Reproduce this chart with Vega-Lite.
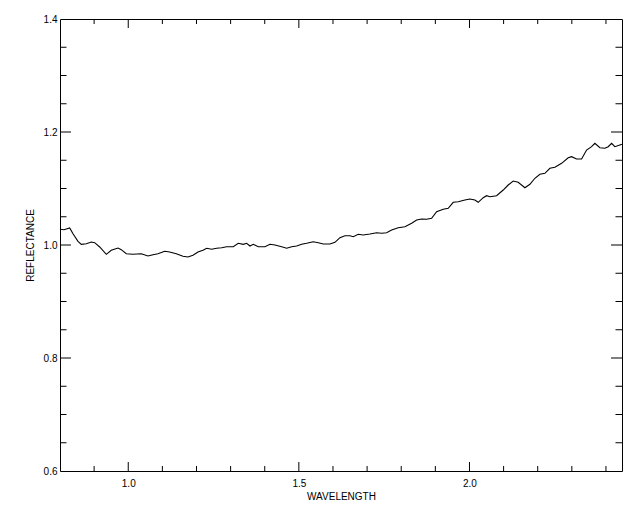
{
  "$schema": "https://vega.github.io/schema/vega-lite/v6.json",
  "width": 562,
  "height": 452,
  "autosize": {"type": "none"},
  "padding": {"left": 60, "top": 19, "right": 18, "bottom": 41},
  "background": "white",
  "config": {
    "view": {"stroke": "black"},
    "axis": {"grid": false, "domain": false, "tickColor": "black", "tickWidth": 1,
      "labelFont": "Liberation Sans", "labelFontSize": 10, "labelColor": "black",
      "titleFont": "Liberation Sans", "titleFontSize": 10, "titleFontWeight": "normal", "titleColor": "black"}
  },
  "datasets": {
    "xminor": [{"v": 0.9}, {"v": 1.1}, {"v": 1.2}, {"v": 1.3}, {"v": 1.4}, {"v": 1.6}, {"v": 1.7}, {"v": 1.8}, {"v": 1.9}, {"v": 2.1}, {"v": 2.2}, {"v": 2.3}, {"v": 2.4}],
    "xmajor": [{"v": 1.0}, {"v": 1.5}, {"v": 2.0}],
    "yminor": [{"v": 0.65}, {"v": 0.7}, {"v": 0.75}, {"v": 0.85}, {"v": 0.9}, {"v": 0.95}, {"v": 1.05}, {"v": 1.1}, {"v": 1.15}, {"v": 1.25}, {"v": 1.3}, {"v": 1.35}],
    "ymajor": [{"v": 0.8}, {"v": 1.0}, {"v": 1.2}],
    "spec": [
      {"w": 0.8000, "r": 1.0278}, {"w": 0.8117, "r": 1.0269}, {"w": 0.8284, "r": 1.0301},
      {"w": 0.8381, "r": 1.0200}, {"w": 0.8527, "r": 1.0065}, {"w": 0.8624, "r": 1.0012},
      {"w": 0.8771, "r": 1.0023}, {"w": 0.8917, "r": 1.0053}, {"w": 0.9017, "r": 1.0041},
      {"w": 0.9163, "r": 0.9965}, {"w": 0.9357, "r": 0.9835}, {"w": 0.9503, "r": 0.9906},
      {"w": 0.9699, "r": 0.9947}, {"w": 0.9796, "r": 0.9917}, {"w": 0.9943, "r": 0.9846},
      {"w": 1.0139, "r": 0.9835}, {"w": 1.0382, "r": 0.9846}, {"w": 1.0578, "r": 0.9805},
      {"w": 1.0725, "r": 0.9828}, {"w": 1.0871, "r": 0.9846}, {"w": 1.1068, "r": 0.9888},
      {"w": 1.1214, "r": 0.9876}, {"w": 1.1408, "r": 0.9846}, {"w": 1.1604, "r": 0.9800},
      {"w": 1.1750, "r": 0.9788}, {"w": 1.1897, "r": 0.9818}, {"w": 1.2043, "r": 0.9876},
      {"w": 1.2190, "r": 0.9906}, {"w": 1.2298, "r": 0.9942}, {"w": 1.2445, "r": 0.9924},
      {"w": 1.2591, "r": 0.9942}, {"w": 1.2738, "r": 0.9952}, {"w": 1.2884, "r": 0.9970},
      {"w": 1.3078, "r": 0.9970}, {"w": 1.3224, "r": 1.0030}, {"w": 1.3371, "r": 1.0012},
      {"w": 1.3470, "r": 1.0030}, {"w": 1.3567, "r": 0.9982}, {"w": 1.3664, "r": 1.0012},
      {"w": 1.3810, "r": 0.9970}, {"w": 1.4006, "r": 0.9970}, {"w": 1.4153, "r": 1.0012},
      {"w": 1.4299, "r": 1.0000}, {"w": 1.4496, "r": 0.9970}, {"w": 1.4642, "r": 0.9942},
      {"w": 1.4789, "r": 0.9970}, {"w": 1.4935, "r": 0.9982}, {"w": 1.5082, "r": 1.0012},
      {"w": 1.5228, "r": 1.0030}, {"w": 1.5422, "r": 1.0058}, {"w": 1.5568, "r": 1.0041},
      {"w": 1.5715, "r": 1.0018}, {"w": 1.5911, "r": 1.0018}, {"w": 1.6057, "r": 1.0048},
      {"w": 1.6204, "r": 1.0129}, {"w": 1.6350, "r": 1.0165}, {"w": 1.6497, "r": 1.0165},
      {"w": 1.6594, "r": 1.0147}, {"w": 1.6740, "r": 1.0189}, {"w": 1.6887, "r": 1.0177},
      {"w": 1.7083, "r": 1.0195}, {"w": 1.7279, "r": 1.0218}, {"w": 1.7426, "r": 1.0207},
      {"w": 1.7572, "r": 1.0218}, {"w": 1.7719, "r": 1.0265}, {"w": 1.7912, "r": 1.0306},
      {"w": 1.8108, "r": 1.0324}, {"w": 1.8305, "r": 1.0384}, {"w": 1.8451, "r": 1.0442},
      {"w": 1.8598, "r": 1.0460}, {"w": 1.8744, "r": 1.0455}, {"w": 1.8891, "r": 1.0473},
      {"w": 1.9037, "r": 1.0589}, {"w": 1.9231, "r": 1.0632}, {"w": 1.9377, "r": 1.0650},
      {"w": 1.9524, "r": 1.0756}, {"w": 1.9670, "r": 1.0766}, {"w": 1.9866, "r": 1.0796},
      {"w": 2.0013, "r": 1.0814}, {"w": 2.0159, "r": 1.0796}, {"w": 2.0256, "r": 1.0756},
      {"w": 2.0403, "r": 1.0837}, {"w": 2.0502, "r": 1.0873}, {"w": 2.0599, "r": 1.0855},
      {"w": 2.0795, "r": 1.0873}, {"w": 2.0989, "r": 1.0973}, {"w": 2.1135, "r": 1.1062},
      {"w": 2.1282, "r": 1.1133}, {"w": 2.1428, "r": 1.1110}, {"w": 2.1624, "r": 1.1014},
      {"w": 2.1771, "r": 1.1074}, {"w": 2.1917, "r": 1.1181}, {"w": 2.2064, "r": 1.1251},
      {"w": 2.2210, "r": 1.1269}, {"w": 2.2357, "r": 1.1358}, {"w": 2.2503, "r": 1.1375},
      {"w": 2.2700, "r": 1.1446}, {"w": 2.2893, "r": 1.1545}, {"w": 2.2993, "r": 1.1563},
      {"w": 2.3139, "r": 1.1522}, {"w": 2.3286, "r": 1.1522}, {"w": 2.3432, "r": 1.1681},
      {"w": 2.3578, "r": 1.1740}, {"w": 2.3675, "r": 1.1800}, {"w": 2.3822, "r": 1.1722},
      {"w": 2.3968, "r": 1.1712}, {"w": 2.4065, "r": 1.1740}, {"w": 2.4165, "r": 1.1800},
      {"w": 2.4261, "r": 1.1740}, {"w": 2.4408, "r": 1.1770}, {"w": 2.4467, "r": 1.1782}
    ]
  },
  "resolve": {"axis": {"x": "independent", "y": "independent"}},
  "layer": [
    {
      "data": {"name": "spec"},
      "mark": {"type": "line", "color": "black", "strokeWidth": 1.1},
      "encoding": {
        "x": {"field": "w", "type": "quantitative",
          "scale": {"domain": [0.8, 2.447], "nice": false, "zero": false},
          "axis": {"orient": "bottom", "values": [1.0, 1.5, 2.0], "format": ".1f", "ticks": false,
            "labelPadding": 7, "title": "WAVELENGTH", "titleBaseline": "top", "titleY": 20}},
        "y": {"field": "r", "type": "quantitative",
          "scale": {"domain": [0.6, 1.4], "nice": false, "zero": false},
          "axis": {"orient": "left", "values": [0.6, 0.8, 1.0, 1.2, 1.4], "format": ".1f", "ticks": false,
            "labelPadding": 3,
            "title": "REFLECTANCE", "titleAngle": -90, "titleAlign": "center", "titleBaseline": "middle",
            "titleX": -30, "titleY": 226}}
      }
    },
    {
      "data": {"name": "xminor"},
      "mark": {"type": "rule", "color": "black", "strokeWidth": 1},
      "encoding": {
        "x": {"field": "v", "type": "quantitative", "axis": null},
        "y": {"datum": 0.6, "type": "quantitative", "axis": null},
        "y2": {"datum": 0.60885}
      }
    },
    {
      "data": {"name": "xmajor"},
      "mark": {"type": "rule", "color": "black", "strokeWidth": 1},
      "encoding": {
        "x": {"field": "v", "type": "quantitative", "axis": null},
        "y": {"datum": 0.6, "type": "quantitative", "axis": null},
        "y2": {"datum": 0.6159}
      }
    },
    {
      "data": {"name": "xminor"},
      "mark": {"type": "rule", "color": "black", "strokeWidth": 1},
      "encoding": {
        "x": {"field": "v", "type": "quantitative", "axis": null},
        "y": {"datum": 1.4, "type": "quantitative", "axis": null},
        "y2": {"datum": 1.39115}
      }
    },
    {
      "data": {"name": "xmajor"},
      "mark": {"type": "rule", "color": "black", "strokeWidth": 1},
      "encoding": {
        "x": {"field": "v", "type": "quantitative", "axis": null},
        "y": {"datum": 1.4, "type": "quantitative", "axis": null},
        "y2": {"datum": 1.38407}
      }
    },
    {
      "data": {"name": "yminor"},
      "mark": {"type": "rule", "color": "black", "strokeWidth": 1},
      "encoding": {
        "y": {"field": "v", "type": "quantitative", "axis": null},
        "x": {"datum": 0.8, "type": "quantitative", "axis": null},
        "x2": {"datum": 0.81905}
      }
    },
    {
      "data": {"name": "ymajor"},
      "mark": {"type": "rule", "color": "black", "strokeWidth": 1},
      "encoding": {
        "y": {"field": "v", "type": "quantitative", "axis": null},
        "x": {"datum": 0.8, "type": "quantitative", "axis": null},
        "x2": {"datum": 0.83223}
      }
    },
    {
      "data": {"name": "yminor"},
      "mark": {"type": "rule", "color": "black", "strokeWidth": 1},
      "encoding": {
        "y": {"field": "v", "type": "quantitative", "axis": null},
        "x": {"datum": 2.447, "type": "quantitative", "axis": null},
        "x2": {"datum": 2.42795}
      }
    },
    {
      "data": {"name": "ymajor"},
      "mark": {"type": "rule", "color": "black", "strokeWidth": 1},
      "encoding": {
        "y": {"field": "v", "type": "quantitative", "axis": null},
        "x": {"datum": 2.447, "type": "quantitative", "axis": null},
        "x2": {"datum": 2.41477}
      }
    }
  ]
}
